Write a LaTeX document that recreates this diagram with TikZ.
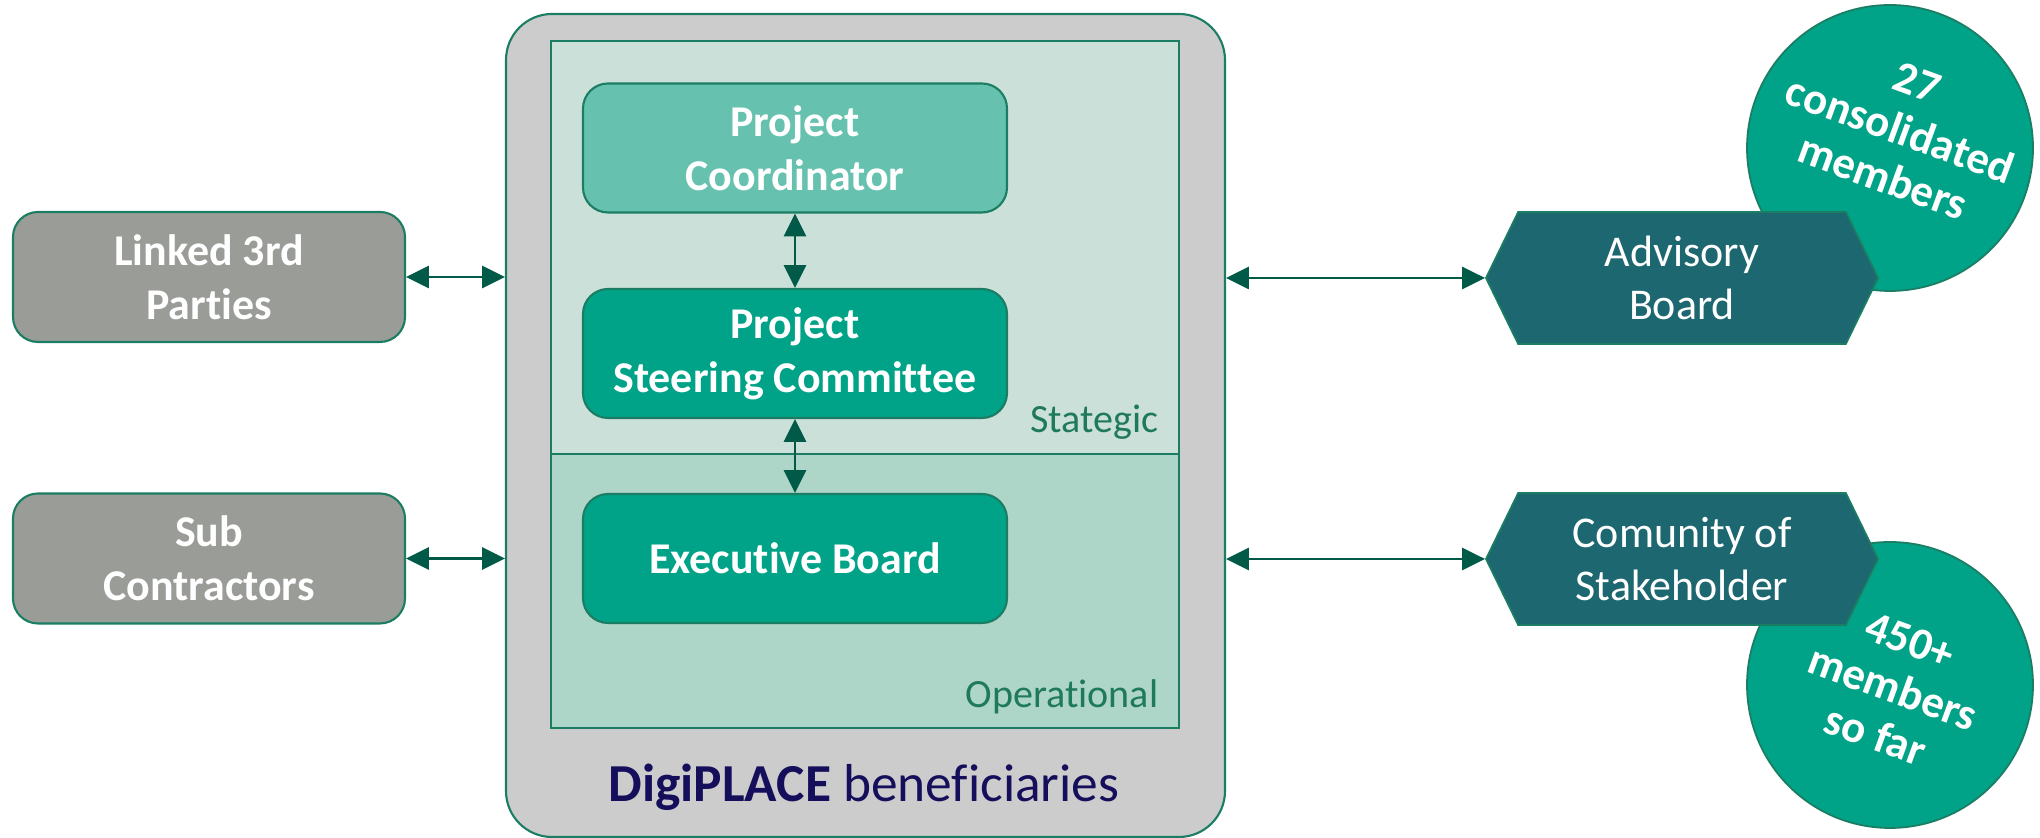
\documentclass[tikz,border=0pt]{standalone}
\usepackage{fontspec}
\setmainfont{Carlito}[Ligatures=NoCommon]
\usetikzlibrary{shapes.symbols,arrows.meta}

\definecolor{bggrey}{HTML}{CCCCCC}
\definecolor{stratcol}{HTML}{CCE0DA}
\definecolor{opercol}{HTML}{ADD5C8}
\definecolor{lightteal}{HTML}{66C2AF}
\definecolor{tealfill}{HTML}{00A387}
\definecolor{edgecol}{HTML}{1B7D63}
\definecolor{partgrey}{HTML}{9A9C97}
\definecolor{hexcol}{HTML}{1D6770}
\definecolor{arrcol}{HTML}{005A47}
\definecolor{labcol}{HTML}{1F7A5A}
\definecolor{navyblue}{HTML}{150F5B}

\begin{document}
\begin{tikzpicture}[
  box/.style={draw=edgecol, line width=0.6pt, rounded corners=0.25cm, text=white,
    font=\bfseries\fontsize{12.5}{15.3}\selectfont, align=center,
    minimum width=4.24cm, minimum height=1.29cm, inner sep=0pt},
  hexbox/.style={signal, signal to=west and east, signal pointer angle=128,
    draw=edgecol, line width=0.5pt, fill=hexcol, text=white,
    font=\fontsize{12.5}{15.3}\selectfont, align=center,
    minimum width=3.92cm, minimum height=1.32cm, inner sep=0pt},
  badge/.style={circle, draw=edgecol, line width=0.5pt, fill=tealfill,
    minimum size=2.86cm, inner sep=0pt},
  badgetext/.style={rotate=-20, text=white, align=center,
    font=\bfseries\fontsize{12.8}{14.3}\selectfont},
  arr/.style={draw=arrcol, line width=0.6pt,
    {Triangle[length=6.5pt,width=6.3pt]}-{Triangle[length=6.5pt,width=6.3pt]}}
]
\useasboundingbox (0,0) rectangle (20.4,8.38);
%\draw[step=0.5cm,gray,very thin] (0,0) grid (20.4,8.38); %background grid

% beneficiaries block
\node[draw=edgecol, line width=0.6pt, fill=bggrey, rounded corners=0.46cm,
  minimum width=7.19cm, minimum height=8.23cm, inner sep=0pt] (benef) at (8.655,4.125) {};
\node[draw=edgecol, line width=0.6pt, fill=stratcol,
  minimum width=6.28cm, minimum height=4.13cm, inner sep=0pt] (strat) at (8.65,5.905) {};
\node[draw=edgecol, line width=0.6pt, fill=opercol,
  minimum width=6.28cm, minimum height=2.74cm, inner sep=0pt] (oper) at (8.65,2.47) {};

\node[anchor=base east, inner sep=0pt, text=labcol, font=\fontsize{11.4}{13}\selectfont] (stratlab) at (11.59,4.05) {Stategic};
\node[anchor=base east, inner sep=0pt, text=labcol, font=\fontsize{11.4}{13}\selectfont] (operlab) at (11.59,1.30) {Operational};
\node[anchor=base, inner sep=0pt, text=navyblue, font=\fontsize{15.2}{18}\selectfont] (benlab) at (8.64,0.36) {\textbf{DigiPLACE} beneficiaries};

\node[box, fill=lightteal] (coord) at (7.95,6.90) {Project\\Coordinator};
\node[box, fill=tealfill] (steer) at (7.95,4.845) {Project\\Steering Committee};
\node[box, fill=tealfill] (exec) at (7.95,2.795) {Executive Board};

\draw[arr] (coord) -- (steer);
\draw[arr] (steer) -- (exec);

% left side
\node[box, fill=partgrey, minimum width=3.92cm, minimum height=1.30cm] (linked) at (2.09,5.61) {Linked 3rd\\Parties};
\node[box, fill=partgrey, minimum width=3.92cm, minimum height=1.30cm] (sub) at (2.09,2.795) {Sub\\Contractors};

\draw[arr] (linked.east) -- (linked.east -| benef.west);
\draw[arr] (sub.east) -- (sub.east -| benef.west);

% right side
\node[badge] (badgeA) at (18.90,6.90) {};
\node[badge] (badgeB) at (18.90,1.53) {};
\node[badgetext] (countA) at (19.00,7.08) {27\\consolidated\\members};
\node[badgetext] (countB) at (18.93,1.50) {450+\\members\\so far};

\node[hexbox] (advisory) at (16.82,5.60) {Advisory\\Board};
\node[hexbox] (community) at (16.82,2.79) {Comunity of\\Stakeholder};

\draw[arr] (benef.east |- advisory.west) -- (advisory.west);
\draw[arr] (benef.east |- community.west) -- (community.west);
\end{tikzpicture}
\end{document}
